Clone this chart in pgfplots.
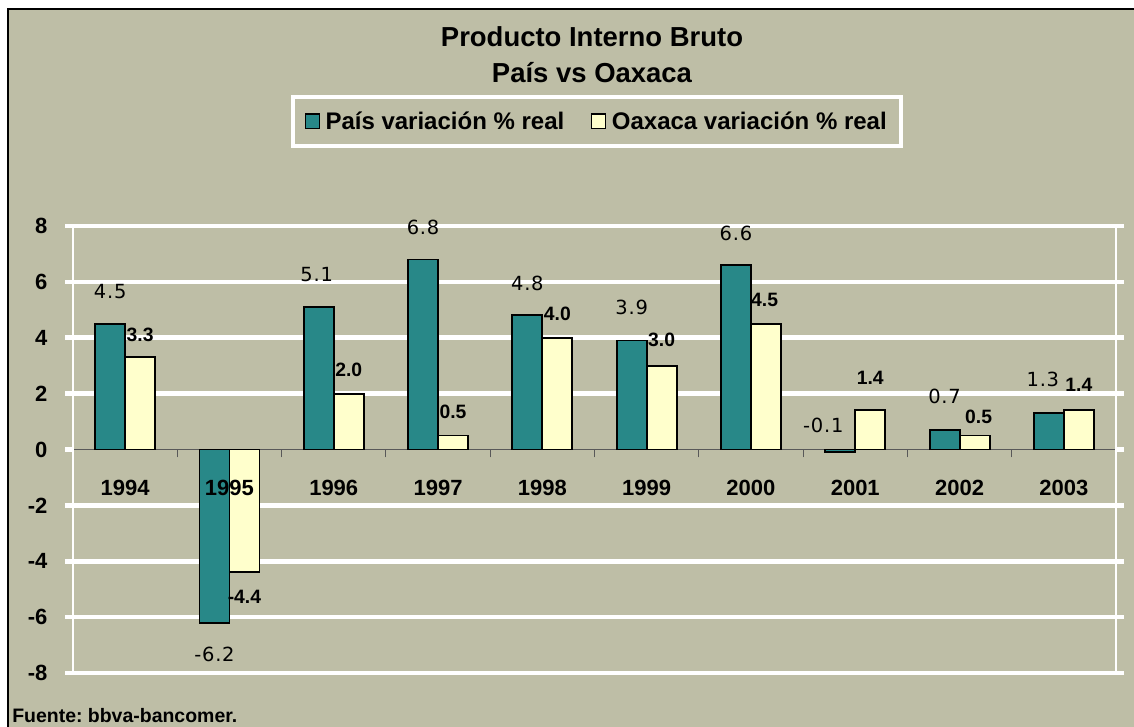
\documentclass[border=0pt]{standalone}
\usepackage{fontspec}
\setmainfont{Liberation Sans}
\newfontfamily\lblfont[LetterSpace=4]{DejaVu Sans}
\usepackage{pgfplots}
\usepackage{pgfplotstable}
\pgfplotsset{compat=1.18}
\definecolor{bgk}{RGB}{190,190,166}
\definecolor{teal2}{RGB}{40,136,136}
\definecolor{cream}{RGB}{255,255,204}
\frenchspacing

\pgfplotstableread{
x y dx dy
0 4.5 0 24
1 -6.2 0 -24
2 5.1 -1.5 24
3 6.8 0 24
4 4.8 0 24
5 3.9 0 25
6 6.6 0 24
7 -0.1 -12.75 20
8 0.7 0 25
9 1.3 -4.5 25
}\pais
\pgfplotstableread{
x y dx dy
0 3.3 0 17
1 -4.4 0 -18
2 2.0 0 18
3 0.5 0 18
4 4.0 0 18
5 3.0 0 19
6 4.5 -1 18
7 1.4 0 24.5
8 0.5 3 14
9 1.4 0 19
}\oaxaca

\begin{document}
\begin{tikzpicture}
\useasboundingbox (0,0) rectangle (850.5pt,545.25pt);
\fill[white] (0,0) rectangle (850.5pt,545.25pt);
\fill[bgk] (6pt,0) rectangle (850.5pt,538.5pt);
\draw[black, line width=1.2pt] (6pt,0) -- (6pt,538.5pt) -- (850.5pt,538.5pt);
\node[font=\bfseries\fontsize{20.6}{20.6}\selectfont] at (444pt,517.5pt) {Producto Interno Bruto};
\node[font=\bfseries\fontsize{20.6}{20.6}\selectfont] at (444pt,490.5pt) {País vs Oaxaca};
\node[font=\bfseries\fontsize{14.6}{14.6}\selectfont, anchor=base west, inner sep=0pt] at (9pt,3pt) {Fuente: bbva-bancomer.};
\begin{axis}[
  at={(54.75pt,40.5pt)}, anchor=south west,
  scale only axis, width=782.25pt, height=335.25pt,
  ybar=0pt, bar width=22.5pt,
  xmin=-0.5, xmax=9.5, ymin=-8, ymax=8,
  axis x line=middle, axis y line=box,
  hide obscured x ticks=false, hide obscured y ticks=false,
  x axis line style={-, draw=black!65, line width=0.8pt},
  y axis line style={white, line width=1.2pt},
  xtick={-0.5,0.5,...,9.5}, xticklabels={},
  xtick align=outside,
  xtick style={draw=black!65, line width=0.8pt},
  major tick length=6pt,
  ytick={-8,-6,-4,-2,2,4,6,8},
  extra y ticks={0},
  extra y tick style={grid=none},
  ytick align=outside,
  ytick style={white, line width=3.5pt},
  ymajorgrids,
  grid style={white, line width=3.5pt},
  yticklabel style={font=\bfseries\fontsize{16.5}{16.5}\selectfont, xshift=-9.7pt},
  /pgf/number format/assume math mode=true,
  legend style={at={(0.5024,1.2338)}, anchor=center, draw=white, line width=3pt, fill=none,
    font=\bfseries\fontsize{18}{18}\selectfont, inner xsep=9pt, inner ysep=9pt,
    /tikz/every even column/.append style={column sep=18pt}},
  legend columns=2,
]
\addplot[fill=teal2, draw=black, line width=1.4pt,
  legend image code/.code={\draw[fill=teal2, draw=black, line width=1pt] (0pt,-5.5pt) rectangle (10.5pt,5.5pt); \path (12.5pt,0pt);},
  nodes near coords={\pgfmathprintnumber[fixed,fixed zerofill,precision=1]{\pgfplotspointmeta}},
  visualization depends on={\thisrow{dx} \as \dx},
  visualization depends on={\thisrow{dy} \as \dy},
  every node near coord/.append style={anchor=center, xshift=\dx pt, yshift=\dy pt,
    font=\lblfont\fontsize{14.6}{14.6}\selectfont, text=black}
] table[x=x,y=y] {\pais};
\addlegendentry{País variación \% real}
\addplot[fill=cream, draw=black, line width=1.4pt,
  legend image code/.code={\draw[fill=cream, draw=black, line width=1pt] (0pt,-5.5pt) rectangle (10.5pt,5.5pt); \path (12.5pt,0pt);},
  nodes near coords={\pgfmathprintnumber[fixed,fixed zerofill,precision=1]{\pgfplotspointmeta}},
  visualization depends on={\thisrow{dx} \as \dx},
  visualization depends on={\thisrow{dy} \as \dy},
  every node near coord/.append style={anchor=center, xshift=\dx pt, yshift=\dy pt,
    font=\bfseries\fontsize{14.5}{14.5}\selectfont, text=black}
] table[x=x,y=y] {\oaxaca};
\addlegendentry{Oaxaca variación \% real}
\end{axis}
% category labels on top of the bars
\begin{axis}[
  at={(54.75pt,40.5pt)}, anchor=south west,
  scale only axis, width=782.25pt, height=335.25pt,
  xmin=-0.5, xmax=9.5, ymin=-8, ymax=8,
  axis x line=middle, axis y line=none,
  x axis line style={draw=none, -},
  hide obscured x ticks=false,
  xtick={0,1,2,3,4,5,6,7,8,9},
  xticklabels={1994,1995,1996,1997,1998,1999,2000,2001,2002,2003},
  major tick length=0pt, xtick style={draw=none},
  xticklabel style={font=\bfseries\fontsize{16.5}{16.5}\selectfont, yshift=-19.7pt},
]
\end{axis}
\end{tikzpicture}
\end{document}
